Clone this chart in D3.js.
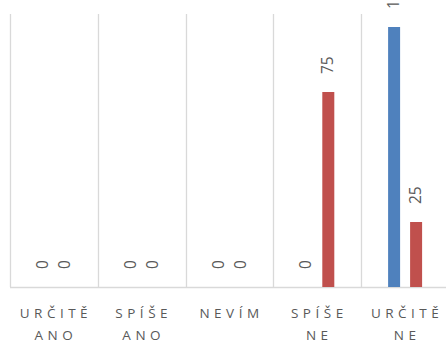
<!DOCTYPE html>
<html><head><meta charset="utf-8">
<script src="https://cdn.jsdelivr.net/npm/d3@7"></script>
<style>body{margin:0;background:#fff}svg{display:block}</style>
</head><body><svg id="c" width="446" height="342"></svg>
<script>
const categories = [["URČITĚ","ANO"],["SPÍŠE","ANO"],["NEVÍM"],["SPÍŠE","NE"],["URČITĚ","NE"]];
const seriesBlue = [0,0,0,0,100];
const seriesRed = [0,0,0,75,25];
const series = [{name:"A", values:seriesBlue, color:"#4f81bd"},{name:"B", values:seriesRed, color:"#c0504d"}];

const svg = d3.select("#c");
const keys = categories.map((c,i)=>String(i));
const x = d3.scaleBand().domain(keys).range([10,449]);
const y = d3.scaleLinear().domain([0,105]).range([287,14]);
const barW = 12, offs = [-17,5];
const crisp = v => Math.round(v)+0.5;

// gridlines
svg.append("g").selectAll("line").data(keys.concat(["end"])).join("line")
  .attr("x1",d=>crisp(d==="end"?x.range()[1]:x(d))).attr("x2",d=>crisp(d==="end"?x.range()[1]:x(d)))
  .attr("y1",y(0)).attr("y2",y(105)).attr("stroke","#d9d9d9").attr("stroke-width",1.3);
svg.append("line").attr("x1",10).attr("x2",449).attr("y1",y(0)+0.5).attr("y2",y(0)+0.5)
  .attr("stroke","#d9d9d9").attr("stroke-width",1.3);

series.forEach((s,si)=>{
  const g = svg.append("g");
  g.selectAll("rect").data(s.values).join("rect")
    .attr("x",(d,i)=>x(keys[i])+x.bandwidth()/2+offs[si])
    .attr("width",barW)
    .attr("y",d=>y(d)).attr("height",d=>y(0)-y(d))
    .attr("fill",s.color);
  g.selectAll("text").data(s.values).join("text")
    .attr("transform",(d,i)=>`translate(${x(keys[i])+x.bandwidth()/2+offs[si]+barW/2+5},${y(d)-18}) rotate(-90)`)
    .attr("text-anchor","start")
    .attr("font-family","Open Sans, sans-serif").attr("font-size",15.5).attr("fill","#595959")
    .text(d=>d);
});

// category labels
const lab = svg.append("g");
categories.forEach((lines,i)=>{
  lines.forEach((t,li)=>{
    lab.append("text").attr("x",x(keys[i])+x.bandwidth()/2+2).attr("y",318+li*22)
      .attr("text-anchor","middle").attr("font-family","Open Sans, sans-serif")
      .attr("font-size",13.5).attr("letter-spacing","4.5px").attr("fill","#595959").text(t);
  });
});
</script></body></html>
